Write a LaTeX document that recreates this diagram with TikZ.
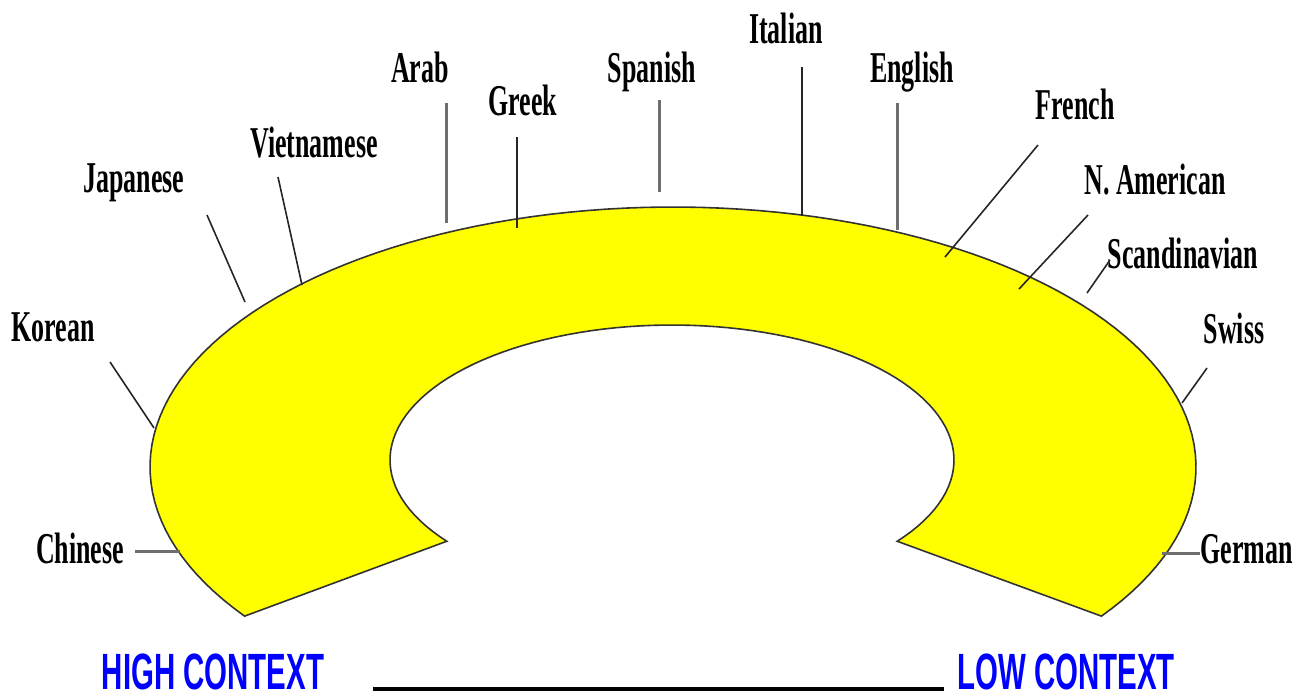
\documentclass[tikz,border=0pt]{standalone}
\usepackage{fontspec}
\usepackage{tikz}
\usetikzlibrary{calc}
\newfontfamily\labelfont[FakeStretch=0.59]{Liberation Serif}
\newfontfamily\ctxfont[FakeStretch=0.577]{Liberation Sans}
\definecolor{bandyellow}{RGB}{255,255,0}
\definecolor{leadgray}{RGB}{110,110,110}
\definecolor{ctxblue}{RGB}{0,0,255}
\tikzset{
  band/.style={draw=black!80,line width=0.8pt,fill=bandyellow},
  lbl/.style={anchor=base,inner sep=0pt,font=\labelfont\bfseries\fontsize{22}{24}\selectfont},
  lead/.style={draw=black!85,line width=0.8pt},
  leadthick/.style={draw=leadgray,line width=1.5pt},
  ctx/.style={anchor=base,inner sep=0pt,text=ctxblue,font=\ctxfont\bfseries\fontsize{25.5}{27}\selectfont}
}
\begin{document}
\begin{tikzpicture}[x=0.5pt,y=-0.5pt]
\useasboundingbox (0,0) rectangle (1294,693);
% the band
\draw[band] plot[domain=145:395,samples=120] ({673+523*cos(\x)},{467+260*sin(\x)})
  -- plot[domain=37:-217,samples=100] ({672+282*cos(\x)},{460+135*sin(\x)}) -- cycle;
% labels
\foreach \n/\t/\x/\y in {chinese/Chinese/80/563, korean/Korean/53/341, japanese/Japanese/134/192,
    vietnamese/Vietnamese/314/157, arab/Arab/420/82, greek/Greek/523/115, spanish/Spanish/652/82,
    italian/Italian/786/43, english/English/912/82, french/French/1075/119,
    namerican/N. American/1155/194, scandinavian/Scandinavian/1183/268, swiss/Swiss/1234/343}
  {\node[lbl] (\n) at (\x,\y) {\t};}
\node[lbl,anchor=base east] (german) at (1293,563) {German};
% thin leaders
\foreach \n/\ax/\ay/\bx/\by in {korean/110/362/154/428, japanese/207/215/245/302,
    vietnamese/278/177/302/285, greek/517/137/517/228, italian/802/67/802/216,
    french/1038/145/945/257, namerican/1088/215/1019/289, scandinavian/1110/260/1087/293,
    swiss/1207/368/1182/403} {
  \coordinate (\n-a) at (\ax,\ay);
  \coordinate (\n-b) at (\bx,\by);
  \draw[lead] (\n-a) -- (\n-b);
}
% thick leaders
\foreach \n/\ax/\ay/\bx/\by in {chinese/135/551/180/551, arab/446/103/446/223,
    spanish/659/100/659/192, english/897/103/897/230, german/1162/553/1200/553} {
  \coordinate (\n-a) at (\ax,\ay);
  \coordinate (\n-b) at (\bx,\by);
  \draw[leadthick] (\n-a) -- (\n-b);
}
% scale
\node[ctx] (high) at (213,689) {HIGH CONTEXT};
\node[ctx] (low) at (1066,689) {LOW CONTEXT};
\coordinate (scale-a) at (373,689);
\coordinate (scale-b) at (944,689);
\draw[line width=2pt] (scale-a) -- (scale-b);
\end{tikzpicture}
\end{document}
